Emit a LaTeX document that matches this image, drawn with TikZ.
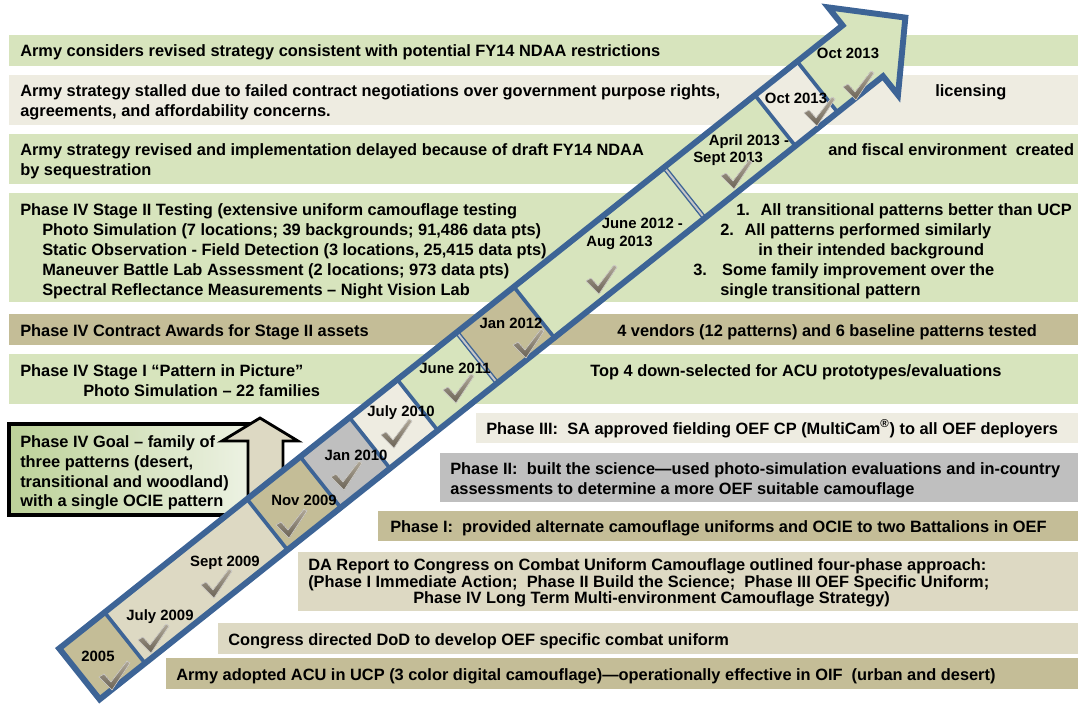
\documentclass[tikz,border=0pt]{standalone}
\usepackage{fontspec}
\setmainfont{Liberation Sans}

\definecolor{bandgreen}{HTML}{D7E4BD}
\definecolor{bandlight}{HTML}{EEECE1}
\definecolor{bandtan}{HTML}{C4BD97}
\definecolor{bandbeige}{HTML}{DDD9C3}
\definecolor{bandgrey}{HTML}{BFBFBF}
\definecolor{arrowblue}{HTML}{3D6496}
\definecolor{chkdark}{HTML}{6A6255}
\definecolor{chklight}{HTML}{B0A898}
\definecolor{goalgreen}{HTML}{BCD198}
\definecolor{goalpale}{HTML}{F0F4E8}

\tikzset{
  txt/.style={anchor=base west, inner sep=0pt, font=\fontsize{11.65}{14}\selectfont\bfseries},
  datelbl/.style={inner sep=0pt, font=\fontsize{10.6}{12.6}\selectfont\bfseries},
  divider/.style={draw=arrowblue, line width=2.6pt},
  dbldivider/.style={draw=arrowblue, line width=1pt, double=black!22, double distance=1.4pt},
  arrowline/.style={draw=arrowblue, line width=4.2pt},
  chk/.pic={\fill[top color=chklight, bottom color=chkdark, draw=white!75!chkdark, line width=0.4pt]
    (-14,0) -- (-9,-3) -- (-2,5) -- (14,-16) -- (17,-14) -- (-1,13) -- cycle;}
}

\begin{document}
\begin{tikzpicture}[x=0.025cm, y=-0.025cm]
\useasboundingbox (0,0) rectangle (1078,706);

% bands
\fill [bandgreen] (9,35) rectangle (1078,66);
\fill [bandlight] (9,75) rectangle (1078,125);
\fill [bandgreen] (9,134) rectangle (1078,184);
\fill [bandgreen] (9,193) rectangle (1078,302);
\fill [bandtan] (9,314) rectangle (1078,345);
\fill [bandgreen] (9,354) rectangle (1078,404);
\fill [bandlight] (476,413) rectangle (1078,443);
\fill [bandgrey] (440,453) rectangle (1078,502);
\fill [bandtan] (378,511) rectangle (1078,541);
\fill [bandbeige] (298,552) rectangle (1078,611);
\fill [bandbeige] (218,623) rectangle (1078,654);
\fill [bandtan] (166,658) rectangle (1078,689);

% band texts
\node [txt] (r1) at (20,56) {Army considers revised strategy consistent with potential FY14 NDAA restrictions};
\node [txt] (r2a) at (20,96) {Army strategy stalled due to failed contract negotiations over government purpose rights,};
\node [txt] (r2b) at (20,116) {agreements, and affordability concerns.};
\node [txt] (r2c) at (935,96) {licensing};
\node [txt] (r3a) at (20,155) {Army strategy revised and implementation delayed because of draft FY14 NDAA};
\node [txt] (r3b) at (20,175) {by sequestration};
\node [txt] (r3c) at (828,155) {and fiscal environment~ created};
\node [txt] (r4a) at (20,215) {Phase IV Stage II Testing (extensive uniform camouflage testing};
\node [txt] (r4b) at (42,235) {Photo Simulation (7 locations; 39 backgrounds; 91,486 data pts)};
\node [txt] (r4c) at (42,255) {Static Observation - Field Detection (3 locations, 25,415 data pts)};
\node [txt] (r4d) at (42,275) {Maneuver Battle Lab Assessment (2 locations; 973 data pts)};
\node [txt] (r4e) at (42,295) {Spectral Reflectance Measurements – Night Vision Lab};
\node [txt] (r4f) at (736,215) {1.~ All transitional patterns better than UCP};
\node [txt] (r4g) at (720,235) {2.~ All patterns performed similarly};
\node [txt] (r4h) at (758,255) {in their intended background};
\node [txt] (r4i) at (693,275) {3.~~ Some family improvement over the};
\node [txt] (r4j) at (720,295) {single transitional pattern};
\node [txt] (r5a) at (20,336) {Phase IV Contract Awards for Stage II assets};
\node [txt] (r5b) at (617,336) {4 vendors (12 patterns) and 6 baseline patterns tested};
\node [txt] (r6a) at (20,376) {Phase IV Stage I “Pattern in Picture”};
\node [txt] (r6b) at (83,396) {Photo Simulation – 22 families};
\node [txt] (r6c) at (590,376) {Top 4 down-selected for ACU prototypes/evaluations};
\node [txt] (r7) at (486,434) {Phase III:~ SA approved fielding OEF CP (MultiCam\textsuperscript{®}) to all OEF deployers};
\node [txt] (r8a) at (450,474) {Phase II:~ built the science—used photo-simulation evaluations and in-country};
\node [txt] (r8b) at (450,494) {assessments to determine a more OEF suitable camouflage};
\node [txt] (r9) at (390,532) {Phase I:~ provided alternate camouflage uniforms and OCIE to two Battalions in OEF};
\node [txt] (r10a) at (308,570) {DA Report to Congress on Combat Uniform Camouflage outlined four-phase approach:};
\node [txt] (r10b) at (308,587) {(Phase I Immediate Action;~ Phase II Build the Science;~ Phase III OEF Specific Uniform;};
\node [txt] (r10c) at (413,603) {Phase IV Long Term Multi-environment Camouflage Strategy)};
\node [txt] (r11) at (228,645) {Congress directed DoD to develop OEF specific combat uniform};
\node [txt] (r12) at (176,680) {Army adopted ACU in UCP (3 color digital camouflage)—operationally effective in OIF~ (urban and desert)};

% goal box and up arrow
\draw [line width=2.8pt, left color=goalgreen, right color=goalpale] (9,424) rectangle (265,515);
\node [txt] (g1) at (20,447) {Phase IV Goal – family of};
\node [txt] (g2) at (20,467) {three patterns (desert,};
\node [txt] (g3) at (20,487) {transitional and woodland)};
\node [txt] (g4) at (20,506) {with a single OCIE pattern};
\draw [line width=2pt, fill=bandbeige] (260,418) -- (298,441) -- (283,441) -- (283,530)
  -- (248,530) -- (248,441) -- (222,441) -- cycle;

% time arrow
\begin{scope}[shift={(55,648)}, rotate=38.5]
\fill [bandtan] (3,3) rectangle (61,68);
\fill [bandbeige] (61,3) rectangle (243,68);
\fill [bandtan] (243,3) rectangle (311,68);
\fill [bandgrey] (311,3) rectangle (374,68);
\fill [bandlight] (374,3) rectangle (435,68);
\fill [bandgreen] (435,3) rectangle (511,68);
\fill [bandtan] (511,3) rectangle (584,68);
\fill [bandgreen] (584,3) rectangle (892,68);
\fill [bandlight] (892,3) rectangle (946,68);
\fill [bandgreen] (946,3) -- (1004,3) -- (1004,-20) -- (1058,36) -- (1004,92) -- (1004,68) -- (946,68) -- cycle;
\foreach \s in {61,243,311,374,435,584,892,946}
  \draw [divider] (\s,3) -- (\s,68);
\foreach \s in {511,776}
  \draw [dbldivider] (\s,3) -- (\s,68);
\draw [arrowline] (3,3) -- (1004,3) -- (1004,-20) -- (1058,36) -- (1004,92) -- (1004,68) -- (3,68) -- cycle;
\end{scope}

% dates
\node [datelbl] (d2005) at (98,656) {2005};
\node [datelbl] (d0709) at (160,617) {July 2009};
\node [datelbl] (d0909) at (225,563) {Sept 2009};
\node [datelbl] (d1109) at (304,500) {Nov 2009};
\node [datelbl] (d0110) at (356,455) {Jan 2010};
\node [datelbl] (d0710) at (401,413) {July 2010};
\node [datelbl] (d0611) at (455,368) {June 2011};
\node [datelbl] (d0112) at (511,323) {Jan 2012};
\node [datelbl, align=left, anchor=north west] (d0612) at (586,218) {\hspace*{11pt}June 2012 -\\Aug 2013};
\node [datelbl, align=left, anchor=north west] (d0413) at (693,134) {\hspace*{11pt}April 2013 -\\Sept 2013};
\node [datelbl] (d1013a) at (796,98) {Oct 2013};
\node [datelbl] (d1013b) at (848,53) {Oct 2013};

% check marks
\foreach \cx/\cy in {113/677, 152/640, 215/585, 290/525, 345/477, 395/435, 457/390,
  527/345, 600/281, 735/176, 818/113, 857/87}
  \pic at (\cx,\cy) {chk};
\end{tikzpicture}
\end{document}
